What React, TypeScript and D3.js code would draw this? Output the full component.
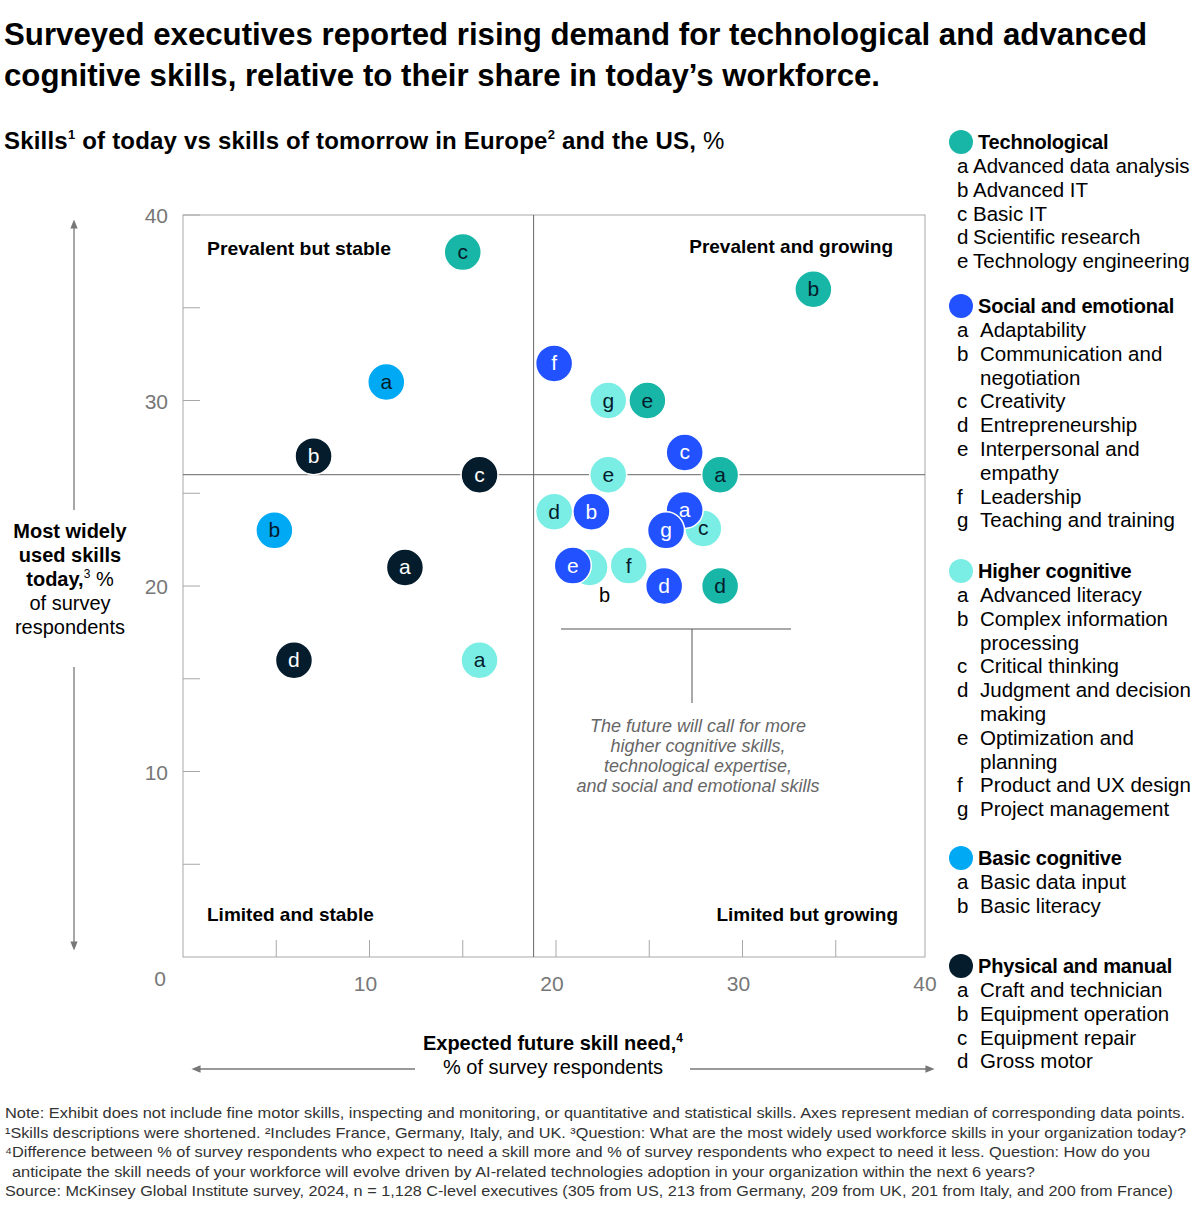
import React, { useEffect } from 'react';
import * as d3 from 'd3';

// Skill categories
const groupNames = ['Technological', 'Social and emotional', 'Higher cognitive', 'Basic cognitive', 'Physical and manual'];
const groupColors = ['#17B6A6', '#2251FF', '#7AEEE4', '#00A9F4', '#051C2C'];
const groupTextColors = ['#051C2C', '#FFFFFF', '#051C2C', '#051C2C', '#FFFFFF'];

// points: letter, expected future need (x), used today (y)
const techLetters = ['c', 'b', 'e', 'a', 'd'];
const techX = [15, 33.8, 24.9, 28.8, 28.8];
const techY = [38, 36, 30, 26, 20];

const socialLetters = ['a', 'b', 'c', 'd', 'e', 'f', 'g'];
const socialX = [26.9, 21.9, 26.9, 25.8, 20.9, 19.9, 25.9];
const socialY = [24.1, 24, 27.2, 20, 21.1, 32, 23];

const higherLetters = ['a', 'b', 'c', 'd', 'e', 'f', 'g'];
const higherX = [15.9, 21.8, 27.9, 19.9, 22.8, 23.9, 22.8];
const higherY = [16, 21, 23.1, 24, 26, 21.1, 30];

const basicLetters = ['a', 'b'];
const basicX = [10.9, 4.9];
const basicY = [31, 23];

const physicalLetters = ['a', 'b', 'c', 'd'];
const physicalX = [11.9, 7, 15.9, 5.95];
const physicalY = [21, 27, 26, 16];

const medianX = 18.8;
const medianY = 26;

const xTicks = [10, 20, 30, 40];
const yTicks = [10, 20, 30, 40];

// legend entries (continuation lines start with a blank letter)
const techItems = [['a', 'Advanced data analysis'], ['b', 'Advanced IT'], ['c', 'Basic IT'], ['d', 'Scientific research'], ['e', 'Technology engineering']];
const socialItems = [['a', 'Adaptability'], ['b', 'Communication and'], ['', 'negotiation'], ['c', 'Creativity'], ['d', 'Entrepreneurship'], ['e', 'Interpersonal and'], ['', 'empathy'], ['f', 'Leadership'], ['g', 'Teaching and training']];
const higherItems = [['a', 'Advanced literacy'], ['b', 'Complex information'], ['', 'processing'], ['c', 'Critical thinking'], ['d', 'Judgment and decision'], ['', 'making'], ['e', 'Optimization and'], ['', 'planning'], ['f', 'Product and UX design'], ['g', 'Project management']];
const basicItems = [['a', 'Basic data input'], ['b', 'Basic literacy']];
const physicalItems = [['a', 'Craft and technician'], ['b', 'Equipment operation'], ['c', 'Equipment repair'], ['d', 'Gross motor']];

const annotationLines = ['The future will call for more', 'higher cognitive skills,', 'technological expertise,', 'and social and emotional skills'];

const footnotes = [
  'Note: Exhibit does not include fine motor skills, inspecting and monitoring, or quantitative and statistical skills. Axes represent median of corresponding data points.',
  '¹Skills descriptions were shortened. ²Includes France, Germany, Italy, and UK. ³Question: What are the most widely used workforce skills in your organization today?',
  '⁴Difference between % of survey respondents who expect to need a skill more and % of survey respondents who expect to need it less. Question: How do you',
  ' anticipate the skill needs of your workforce will evolve driven by AI-related technologies adoption in your organization within the next 6 years?',
  'Source: McKinsey Global Institute survey, 2024, n = 1,128 C-level executives (305 from US, 213 from Germany, 209 from UK, 201 from Italy, and 200 from France)',
];
const footnoteWidths = [1180, 1181, 1145, 1023, 1168];

const FONT = '"Liberation Sans", Arial, sans-serif';

export default function App() {
  useEffect(() => {
    document.body.style.margin = '0';
  }, []);

  const x = d3.scaleLinear().domain([0, 40]).range([183, 929]);
  const y = d3.scaleLinear().domain([0, 40]).range([957, 215]);
  const r = 18.5;

  const series = [
    { g: 3, letters: basicLetters, xs: basicX, ys: basicY },
    { g: 4, letters: physicalLetters, xs: physicalX, ys: physicalY },
    { g: 2, letters: higherLetters, xs: higherX, ys: higherY },
    { g: 1, letters: socialLetters, xs: socialX, ys: socialY },
    { g: 0, letters: techLetters, xs: techX, ys: techY },
  ];

  const legendGroups = [
    { g: 0, items: techItems, top: 142, tight: true },
    { g: 1, items: socialItems, top: 306, tight: false },
    { g: 2, items: higherItems, top: 571, tight: false },
    { g: 3, items: basicItems, top: 858, tight: false },
    { g: 4, items: physicalItems, top: 966, tight: false },
  ];

  const xMinorTicks = d3.range(5, 40, 5);
  const yMinorTicks = d3.range(5, 45, 5);

  return (
    <svg width={1200} height={1221} style={{ display: 'block', fontFamily: FONT }}>
      <defs>
        <marker id="arrow" viewBox="0 0 10 10" refX="5" refY="5" markerWidth="7" markerHeight="7" orient="auto-start-reverse">
          <path d="M0,1 L10,5 L0,9 z" fill="#777" />
        </marker>
      </defs>

      {/* Title */}
      <text x={4} y={45} fontSize={31} fontWeight={700} fill="#000" textLength={1143} lengthAdjust="spacingAndGlyphs">
        Surveyed executives reported rising demand for technological and advanced
      </text>
      <text x={4} y={86} fontSize={31} fontWeight={700} fill="#000" textLength={876} lengthAdjust="spacingAndGlyphs">
        cognitive skills, relative to their share in today’s workforce.
      </text>

      {/* Subtitle */}
      <text x={4} y={149} fontSize={24} fontWeight={700} fill="#000" letterSpacing={0.2}>
        Skills<tspan fontSize={13} dy={-10}>1</tspan>
        <tspan dy={10}> of today vs skills of tomorrow in Europe</tspan>
        <tspan fontSize={13} dy={-10}>2</tspan>
        <tspan dy={10}> and the US, </tspan>
        <tspan fontWeight={400}>%</tspan>
      </text>

      {/* Plot frame */}
      <rect x={x(0)} y={y(40)} width={x(40) - x(0) - 4} height={y(0) - y(40)} fill="none" stroke="#A8A8A8" strokeWidth={1} />

      {/* Minor ticks */}
      {xMinorTicks.map(t => (
        <line key={'xt' + t} x1={x(t)} x2={x(t)} y1={y(0)} y2={y(0) - 17} stroke="#A8A8A8" />
      ))}
      {yMinorTicks.map(t => (
        <line key={'yt' + t} x1={x(0)} x2={x(0) + 17} y1={y(t)} y2={y(t)} stroke="#A8A8A8" />
      ))}

      {/* Median lines */}
      <line x1={x(medianX)} x2={x(medianX)} y1={y(40)} y2={y(0)} stroke="#666" strokeWidth={1} />
      <line x1={x(0)} x2={x(40) - 4} y1={y(medianY)} y2={y(medianY)} stroke="#666" strokeWidth={1} />

      {/* Tick labels */}
      {yTicks.map(t => (
        <text key={'yl' + t} x={168} y={y(t) + 8} textAnchor="end" fontSize={21} fill="#777">{t}</text>
      ))}
      {xTicks.map(t => (
        <text key={'xl' + t} x={x(t) - 4} y={991} textAnchor="middle" fontSize={21} fill="#777">{t}</text>
      ))}
      <text x={160} y={986} textAnchor="middle" fontSize={21} fill="#777">0</text>

      {/* Quadrant labels */}
      <text x={207} y={255} fontSize={19} fontWeight={700} fill="#000" textLength={184} lengthAdjust="spacingAndGlyphs">Prevalent but stable</text>
      <text x={893} y={253} fontSize={19} fontWeight={700} fill="#000" textAnchor="end">Prevalent and growing</text>
      <text x={207} y={921} fontSize={19} fontWeight={700} fill="#000">Limited and stable</text>
      <text x={898} y={921} fontSize={19} fontWeight={700} fill="#000" textAnchor="end">Limited but growing</text>

      {/* Annotation bracket */}
      <line x1={561} x2={791} y1={629} y2={629} stroke="#555" />
      <line x1={692} x2={692} y1={629} y2={703} stroke="#555" />
      {annotationLines.map((l, i) => (
        <text key={'an' + i} x={698} y={732 + i * 20} textAnchor="middle" fontSize={18} fontStyle="italic" fill="#666">{l}</text>
      ))}

      {/* Points */}
      {series.map(s => (
        <g key={'s' + s.g}>
          {s.letters.map((l, i) => {
            const cx = x(s.xs[i]);
            const cy = y(s.ys[i]);
            const hideLabel = s.g === 2 && l === 'b';
            return (
              <g key={l}>
                <circle cx={cx} cy={cy} r={r} fill={groupColors[s.g]} stroke="#fff" strokeWidth={1.5} />
                {!hideLabel && (
                  <text x={cx} y={cy + 7} textAnchor="middle" fontSize={21} fill={groupTextColors[s.g]}>{l}</text>
                )}
              </g>
            );
          })}
        </g>
      ))}
      {/* label for covered circle */}
      <text x={x(higherX[1]) + 15} y={y(higherY[1]) + 35} textAnchor="middle" fontSize={20} fill="#000">b</text>

      {/* Y axis title with arrows */}
      <line x1={74} x2={74} y1={510} y2={224} stroke="#777" strokeWidth={1.3} markerEnd="url(#arrow)" />
      <line x1={74} x2={74} y1={667} y2={946} stroke="#777" strokeWidth={1.3} markerEnd="url(#arrow)" />
      <text x={70} y={538} textAnchor="middle" fontSize={20} fontWeight={700} fill="#000">Most widely</text>
      <text x={70} y={562} textAnchor="middle" fontSize={20} fontWeight={700} fill="#000">used skills</text>
      <text x={70} y={586} textAnchor="middle" fontSize={20} fill="#000">
        <tspan fontWeight={700}>today,</tspan><tspan fontSize={12} dy={-8}>3</tspan><tspan dy={8}> %</tspan>
      </text>
      <text x={70} y={610} textAnchor="middle" fontSize={20} fill="#000">of survey</text>
      <text x={70} y={634} textAnchor="middle" fontSize={20} fill="#000">respondents</text>

      {/* X axis title with arrows */}
      <text x={553} y={1050} textAnchor="middle" fontSize={20} fontWeight={700} fill="#000">
        Expected future skill need,<tspan fontSize={12} dy={-8}>4</tspan>
      </text>
      <text x={553} y={1074} textAnchor="middle" fontSize={20} fill="#000">% of survey respondents</text>
      <line x1={415} x2={196} y1={1069} y2={1069} stroke="#777" strokeWidth={1.3} markerEnd="url(#arrow)" />
      <line x1={690} x2={930} y1={1069} y2={1069} stroke="#777" strokeWidth={1.3} markerEnd="url(#arrow)" />

      {/* Legend */}
      {legendGroups.map(lg => (
        <g key={'lg' + lg.g}>
          <circle cx={961} cy={lg.top} r={12} fill={groupColors[lg.g]} />
          <text x={978} y={lg.top + 7} fontSize={20} fontWeight={700} fill="#000" letterSpacing={-0.2}>{groupNames[lg.g]}</text>
          {lg.items.map((it, i) => (
            <g key={'li' + i}>
              <text x={957} y={lg.top + 31 + i * 23.8} fontSize={20.5} fill="#000">{it[0]}</text>
              <text x={lg.tight ? 973 : 980} y={lg.top + 31 + i * 23.8} fontSize={20.5} fill="#000">{it[1]}</text>
            </g>
          ))}
        </g>
      ))}

      {/* Footnotes */}
      {footnotes.map((f, i) => (
        <text key={'fn' + i} x={i === 3 ? 12 : 5} y={1118 + i * 19.5} fontSize={15} fill="#333" textLength={footnoteWidths[i]} lengthAdjust="spacingAndGlyphs">{f}</text>
      ))}
    </svg>
  );
}
